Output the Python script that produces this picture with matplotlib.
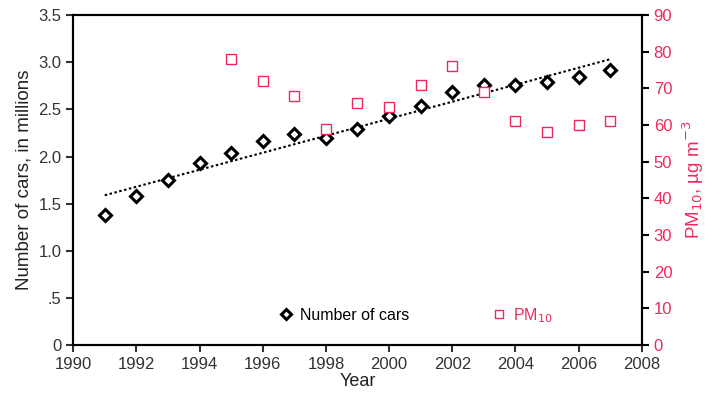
import numpy as np
import matplotlib
matplotlib.use('Agg')
import matplotlib.pyplot as plt

plt.rcParams['font.family'] = ['Liberation Sans', 'DejaVu Sans']

years = [1991, 1992, 1993, 1994, 1995, 1996, 1997, 1998, 1999,
         2000, 2001, 2002, 2003, 2004, 2005, 2006, 2007]
cars = [1.38, 1.58, 1.75, 1.93, 2.04, 2.16, 2.24, 2.20, 2.29,
        2.43, 2.54, 2.68, 2.76, 2.76, 2.79, 2.84, 2.92]

pm_years = [1995, 1996, 1997, 1998, 1999, 2000, 2001, 2002, 2003,
            2004, 2005, 2006, 2007]
pm10 = [78, 72, 68, 59, 66, 65, 71, 76, 69, 61, 58, 60, 61]

red = '#ee2a5c'

fig = plt.figure(figsize=(7.1, 3.99), dpi=100)
ax = fig.add_axes([0.103, 0.135, 0.801, 0.827])
ax2 = ax.twinx()

# linear trend of car numbers
k, b = np.polyfit(years, cars, 1)
xs = np.array([years[0], years[-1]])
ax.plot(xs, k * xs + b, linestyle=(0, (1.2, 1.2)), color='black', lw=1.5, zorder=2)

h1, = ax.plot(years, cars, 'D', mfc='white', mec='black', mew=2.2, ms=6,
              linestyle='none', label='Number of cars', zorder=3)
h2, = ax2.plot(pm_years, pm10, 's', mfc='white', mec=red, mew=1.0, ms=6.5,
               linestyle='none', label='PM$_{10}$')

ax.set_xlim(1990, 2008)
ax.set_ylim(0, 3.5)
ax2.set_ylim(0, 90)

ax.set_xticks(range(1990, 2009, 2))
ax.set_yticks([0, 0.5, 1.0, 1.5, 2.0, 2.5, 3.0, 3.5])
ax.set_yticklabels(['0', '.5', '1.0', '1.5', '2.0', '2.5', '3.0', '3.5'])
ax2.set_yticks(range(0, 91, 10))

for a in (ax, ax2):
    for s in a.spines.values():
        s.set_linewidth(1.5)
ax.tick_params(labelsize=12, width=1.5, length=5, colors='#333333')
ax2.tick_params(labelsize=12, width=1.5, length=5, colors='black', labelcolor=red)

ax.set_xlabel('Year', fontsize=13, color='#222222', labelpad=1)
ax.set_ylabel('Number of cars, in millions', fontsize=13.5, color='#222222')
ax2.set_ylabel('PM$_{10}$, µg m$^{-3}$', fontsize=13.5, color=red, labelpad=6)

leg = ax.legend([h1, h2], ['Number of cars', 'PM$_{10}$'], ncol=2, frameon=False,
                loc='center', bbox_to_anchor=(0.6, 0.09), fontsize=11.5,
                columnspacing=5.0, handletextpad=0.3, handlelength=1.2,
                markerscale=0.85)
leg.get_texts()[1].set_color(red)

fig.savefig('out.png', dpi=100)
